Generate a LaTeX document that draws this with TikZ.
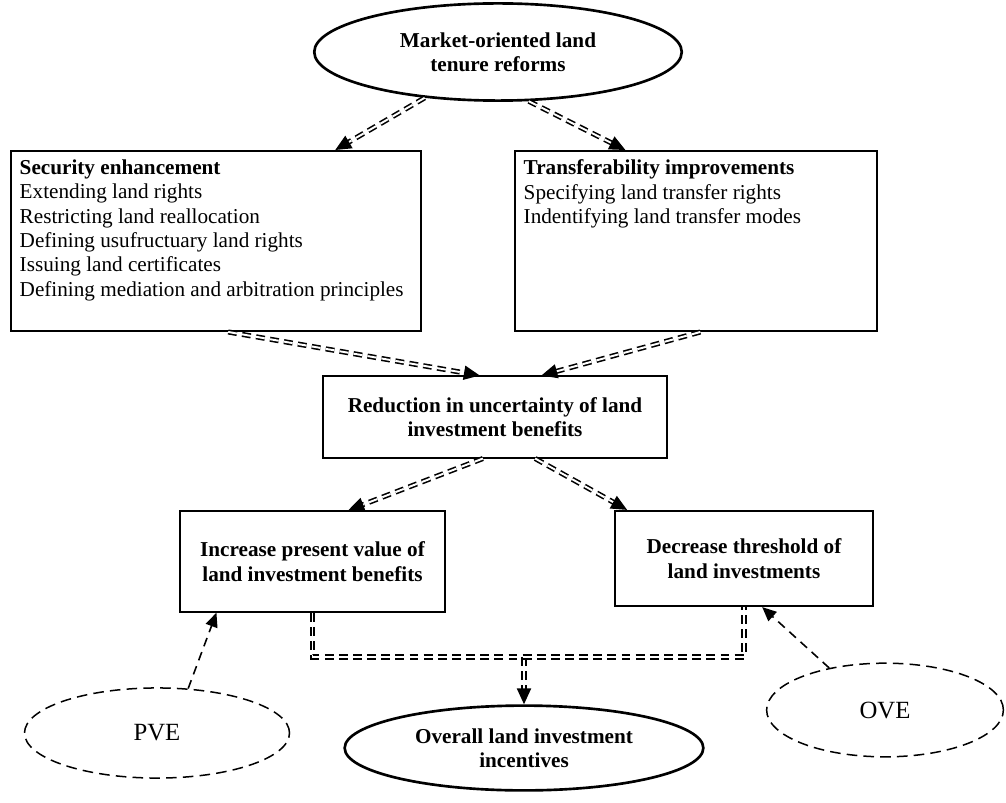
\documentclass[tikz,border=0pt]{standalone}
\usepackage{fontspec}
\setmainfont{Liberation Serif}
\usetikzlibrary{arrows.meta, shapes.geometric, calc}

\begin{document}
\begin{tikzpicture}[
    x=0.566pt, y=-0.566pt,
    box/.style={
        draw=black, line width=1pt, inner sep=0pt, align=center,
        font=\fontsize{12}{13.8}\selectfont\bfseries
    },
    listbox/.style={
        draw=black, line width=1pt, inner sep=5pt, anchor=north west,
        font=\fontsize{12}{13.8}\selectfont
    },
    oval/.style={
        ellipse, draw=black, line width=1.5pt, inner sep=0pt, align=center,
        font=\fontsize{12}{13.8}\selectfont\bfseries
    },
    dashoval/.style={
        ellipse, draw=black, line width=0.85pt, dash pattern=on 6pt off 3.5pt,
        inner sep=0pt, font=\fontsize{14}{16}\selectfont
    },
    dd/.style={
        draw=black, double, double distance=1.1pt, line width=0.9pt,
        dash pattern=on 5pt off 3pt
    },
    ddarrow/.style={
        -{Triangle[length=9pt, width=8pt]}, line width=0.9pt,
        dash pattern=on 0pt off 2000pt,
        preaction={dd, arrows=-, shorten >=8pt}
    },
    dasharrow/.style={
        -{Triangle[length=8pt, width=7pt]}, line width=0.9pt,
        dash pattern=on 5pt off 3.5pt
    }
]
\useasboundingbox (0,0) rectangle (1006,802);

\node[oval, minimum width=208pt, minimum height=55pt] (reform) at (498,52)
    {Market-oriented land\\tenure reforms};

\node[listbox] (secur) at (10,150) {\parbox[c][92pt][t]{222pt}{\raggedright
    \textbf{Security enhancement}\\
    Extending land rights\\
    Restricting land reallocation\\
    Defining usufructuary land rights\\
    Issuing land certificates\\
    Defining mediation and arbitration principles}};
\node[listbox] (transf) at (514,150) {\parbox[c][92pt][t]{195pt}{\raggedright
    \textbf{Transferability improvements}\\
    Specifying land transfer rights\\
    Indentifying land transfer modes}};

\node[box, minimum width=195pt, minimum height=46pt] (reduc) at (495,417)
    {Reduction in uncertainty of land\\investment benefits};
\node[box, minimum width=150pt, minimum height=57pt] (incr) at (312.5,561.5)
    {Increase present value of\\land investment benefits};
\node[box, minimum width=146pt, minimum height=54pt] (decr) at (744,558.5)
    {Decrease threshold of\\land investments};

\node[oval, minimum width=203pt, minimum height=48pt] (overall) at (524,748)
    {Overall land investment\\incentives};
\node[dashoval, minimum width=150pt, minimum height=51pt] (pve) at (157,733) {PVE};
\node[dashoval, minimum width=134pt, minimum height=53pt] (ove) at (885,710) {OVE};

\coordinate (join) at (524,657);

% reforms to the two reform channels
\draw[ddarrow] (reform.212) -- ($(secur.north west)!0.79!(secur.north east)$);
\draw[ddarrow] (reform.302) -- ($(transf.north west)!0.306!(transf.north east)$);

\draw[ddarrow] ($(secur.south west)!0.53!(secur.south east)$) -- ($(reduc.north west)!0.456!(reduc.north east)$);
\draw[ddarrow] ($(transf.south west)!0.512!(transf.south east)$) -- ($(reduc.north west)!0.634!(reduc.north east)$);

\draw[ddarrow] ($(reduc.south west)!0.465!(reduc.south east)$) -- ($(incr.north west)!0.634!(incr.north east)$);
\draw[ddarrow] ($(reduc.south west)!0.616!(reduc.south east)$) -- ($(decr.north west)!0.05!(decr.north east)$);

% both effects join into the overall incentives
\draw[ddarrow] (join) -- (overall.north);
\draw[dd] (incr.south) -- (incr.south |- join) -- (decr.south |- join) -- (decr.south);

\draw[dasharrow] (pve.55) -- ($(incr.south west)!0.14!(incr.south east)$);
\draw[dasharrow] (ove.143) -- ($(decr.south west)!0.57!(decr.south east)$);

\end{tikzpicture}
\end{document}
